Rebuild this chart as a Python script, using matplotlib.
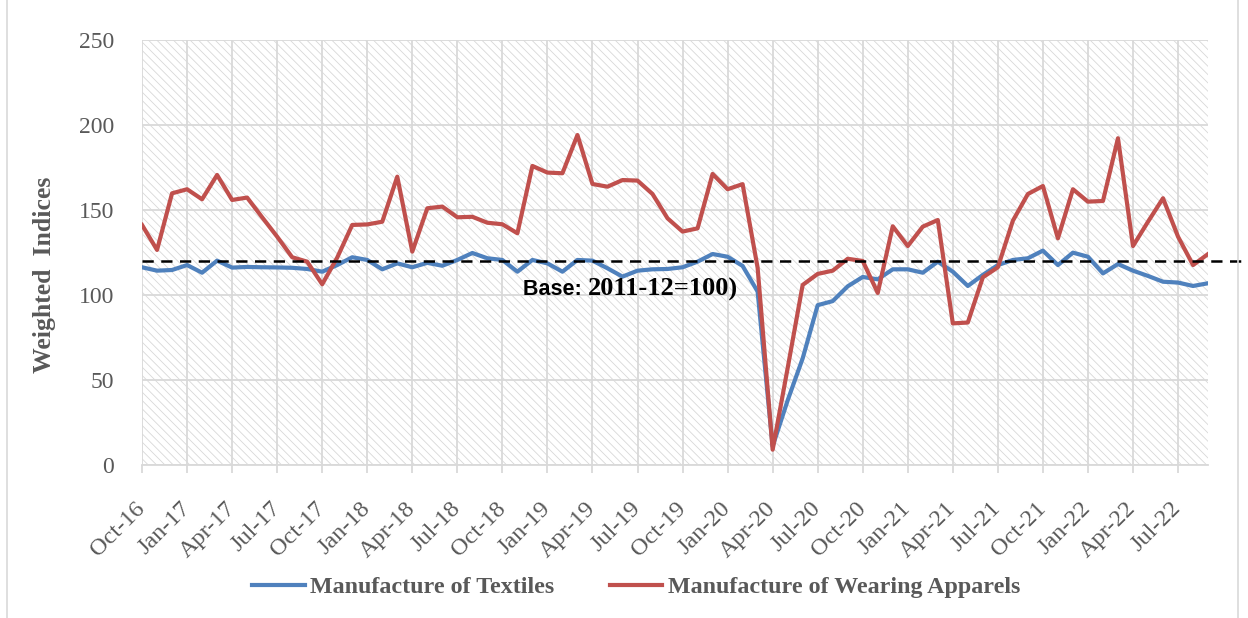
import numpy as np
import pandas as pd
import matplotlib
matplotlib.use("Agg")
import matplotlib.pyplot as plt
from matplotlib.patches import Rectangle
from matplotlib.transforms import offset_copy

plt.rcParams['font.family'] = ['Liberation Serif', 'DejaVu Serif']
plt.rcParams['hatch.linewidth'] = 0.6

# monthly labels Oct-16 .. Sep-22
months = pd.date_range('2016-10-01', periods=72, freq='MS').strftime('%b-%y').tolist()

textiles = [116.3, 114.3, 114.7, 117.6, 113.1, 120.2, 116.1, 116.5, 116.3, 116.2,
            116.0, 115.3, 113.7, 117.6, 122.2, 120.6, 115.1, 118.6, 116.3, 118.9,
            117.2, 120.6, 124.7, 121.6, 120.6, 113.7, 120.6, 118.6, 113.7, 120.6,
            120.2, 115.7, 110.8, 114.3, 115.1, 115.3, 116.3, 119.6, 124.1, 122.5,
            117.1, 102.0, 11.0, 38.0, 62.7, 94.0, 96.4, 105.1, 110.6, 109.2,
            115.1, 115.1, 113.1, 119.6, 113.7, 105.3, 111.8, 117.6, 120.6, 121.6,
            126.1, 117.6, 124.9, 122.5, 112.7, 118.2, 114.3, 111.2, 107.8, 107.3,
            105.3, 106.9]

apparels = [141.2, 126.5, 159.8, 162.2, 156.3, 170.6, 155.9, 157.3, 145.7, 134.3,
            122.2, 119.6, 106.3, 122.0, 141.2, 141.5, 143.1, 169.6, 125.5, 151.0,
            152.0, 145.7, 146.0, 142.5, 141.6, 136.3, 175.9, 172.0, 171.6, 194.1,
            165.3, 163.7, 167.6, 167.3, 159.4, 145.1, 137.3, 139.2, 171.2, 162.2,
            165.2, 116.0, 9.0, 57.0, 105.9, 112.4, 114.3, 121.3, 120.0, 101.2,
            140.4, 128.8, 140.2, 144.1, 83.3, 83.8, 110.4, 116.3, 143.7, 159.4,
            164.1, 133.3, 162.2, 154.9, 155.3, 192.2, 128.8, 143.1, 156.9, 134.3,
            117.6, 124.1]

base_level = 120

x = np.arange(len(months))
grey = '#595959'
gridc = '#d9d9d9'

fig = plt.figure(figsize=(12.48, 6.18), dpi=100)
ax = fig.add_axes([0.1138, 0.2476, 0.968 - 0.1138, 0.9353 - 0.2476])

# hatched plot area
ax.add_patch(Rectangle((0, 0), 1, 1, transform=ax.transAxes, facecolor='white',
                       edgecolor='#d8d8d8', hatch='\\\\\\\\', lw=0, zorder=0.1))

ax.plot(x, textiles, color='#4F81BD', lw=3.0, label='Manufacture of Textiles', zorder=3)
ax.plot(x, apparels, color='#C0504D', lw=3.0, label='Manufacture of Wearing Apparels', zorder=3)
ax.plot([x[0], x[-1] + 2.6], [base_level, base_level], color='black', lw=1.8,
        ls=(0, (4.5, 3)), clip_on=False, zorder=4)

t1 = ax.text(25.4, 103.5, 'Base: ', family=['Liberation Sans'], fontweight='bold',
             fontsize=15.5, va='center', ha='left', zorder=5)
ax.annotate('2011-12=100)', xy=(1, 0.5), xycoords=t1, va='center', ha='left',
            fontweight='bold', fontsize=19, zorder=5)

ax.set_xlim(0, len(months) - 1)
ax.set_ylim(0, 250)
ax.set_yticks(range(0, 251, 50))
ax.set_xticks(x[::3])
ax.set_xticklabels(months[::3], rotation=45, ha='right', va='center',
                   rotation_mode='anchor', fontsize=17.5, color=grey)
for lab in ax.get_xticklabels():
    lab.set_transform(offset_copy(lab.get_transform(), fig=fig, x=3, y=-6, units='points'))
ax.tick_params(axis='x', length=6, width=1.3, color=gridc, pad=23)
ax.tick_params(axis='y', length=0, pad=20, labelsize=17, labelcolor=grey)

ax.grid(True, color=gridc, lw=1.3)
ax.set_axisbelow(True)
for s in ['left', 'right', 'top']:
    ax.spines[s].set_visible(False)
ax.spines['bottom'].set_color(gridc)
ax.spines['bottom'].set_linewidth(1.3)

ax.set_ylabel('Weighted  Indices', fontsize=18.5, fontweight='bold', color=grey)
ax.yaxis.set_label_coords(-0.0807, 0.447)

fig.legend(loc='center', bbox_to_anchor=(0.5096, 0.05), ncol=2, frameon=False,
           prop={'size': 17.3, 'weight': 'bold'}, labelcolor=grey,
           handlelength=2.2, handletextpad=0.22, columnspacing=2.3)

# outer chart border
fig.add_artist(Rectangle((7 / 1248, -0.01), 1231 / 1248, 1.02, transform=fig.transFigure,
                         fill=False, edgecolor=gridc, lw=1.2))

fig.savefig('out.png', dpi=100)
